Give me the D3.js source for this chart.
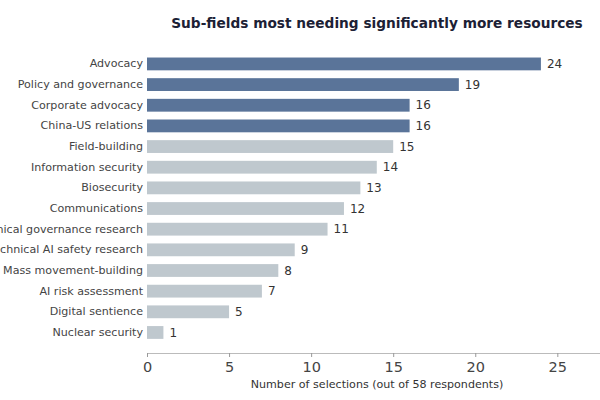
<!DOCTYPE html>
<html>
<head>
<meta charset="utf-8">
<script src="https://cdn.jsdelivr.net/npm/d3@7"></script>
<style>
  body { margin: 0; background: #fff; }
  svg { font-family: "DejaVu Sans", sans-serif; }
</style>
</head>
<body>
<script>
// Data
var categories = ["Advocacy", "Policy and governance", "Corporate advocacy", "China-US relations",
                  "Field-building", "Information security", "Biosecurity", "Communications",
                  "Technical governance research", "Technical AI safety research",
                  "Mass movement-building", "AI risk assessment", "Digital sentience", "Nuclear security"];
var counts = [24, 19, 16, 16, 15, 14, 13, 12, 11, 9, 8, 7, 5, 1];
var highlighted = [true, true, true, true, false, false, false, false, false, false, false, false, false, false];
var xTicks = [0, 5, 10, 15, 20, 25];

var width = 600, height = 400;

var svg = d3.select("body")
            .append("svg")
            .attr("width", width)
            .attr("height", height);

// Scales
var x = d3.scaleLinear()
          .domain([0, 27.6])
          .range([147, 600]);

var y = d3.scaleBand()
          .domain(categories)
          .range([53.6, 342.8])
          .paddingInner(0.38)
          .paddingOuter(0.19);

// Title
svg.append("text")
   .attr("x", 377)
   .attr("y", 28)
   .attr("text-anchor", "middle")
   .attr("font-size", "13.7px")
   .attr("font-weight", "bold")
   .attr("fill", "#1c2135")
   .text("Sub-fields most needing significantly more resources");

// Bars
svg.selectAll("rect.bar")
   .data(categories)
   .enter()
   .append("rect")
   .attr("class", "bar")
   .attr("x", x(0))
   .attr("y", function(d) { return y(d); })
   .attr("width", function(d, i) { return x(counts[i]) - x(0); })
   .attr("height", y.bandwidth())
   .attr("fill", function(d, i) { return highlighted[i] ? "#5a7499" : "#bfc8ce"; });

// Value labels
svg.selectAll("text.value")
   .data(categories)
   .enter()
   .append("text")
   .attr("class", "value")
   .attr("x", function(d, i) { return x(counts[i]) + 6; })
   .attr("y", function(d) { return y(d) + y.bandwidth() / 2; })
   .attr("dy", "0.35em")
   .attr("font-size", "12px")
   .attr("fill", "#333")
   .text(function(d, i) { return counts[i]; });

// Category labels (y axis without line)
var yAxis = svg.append("g")
   .attr("transform", "translate(" + x(0) + ",0)")
   .call(d3.axisLeft(y).tickSize(0).tickPadding(4));
yAxis.select(".domain").remove();
yAxis.selectAll("text")
     .attr("font-size", "11.1px")
     .attr("font-family", "DejaVu Sans, sans-serif")
     .attr("fill", "#444");

// X axis
var xAxis = svg.append("g")
   .attr("transform", "translate(0,353)")
   .call(d3.axisBottom(x).tickValues(xTicks).tickSize(4).tickPadding(5));
xAxis.select(".domain").attr("stroke", "#bbb");
xAxis.selectAll(".tick line").attr("stroke", "#999");
xAxis.selectAll("text")
     .attr("font-size", "14.5px")
     .attr("font-family", "DejaVu Sans, sans-serif")
     .attr("fill", "#444");

svg.append("text")
   .attr("x", 377)
   .attr("y", 388)
   .attr("text-anchor", "middle")
   .attr("font-size", "11.1px")
   .attr("fill", "#333")
   .text("Number of selections (out of 58 respondents)");
</script>
</body>
</html>
